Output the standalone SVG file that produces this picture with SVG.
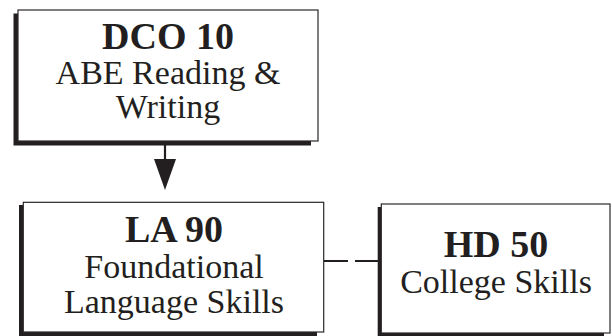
<svg xmlns="http://www.w3.org/2000/svg" width="612" height="336" viewBox="0 0 612 336">
<defs>
<style>
.box{fill:#ffffff;stroke:#2a2728;stroke-width:1.2}
.shadow{fill:#231f20}
.title{font-family:"Liberation Serif","Times New Roman",serif;font-weight:bold;font-size:38px;fill:#231f20;text-anchor:middle}
.body{font-family:"Liberation Serif","Times New Roman",serif;font-size:34px;fill:#231f20;text-anchor:middle}
.conn{stroke:#231f20;stroke-width:2.2;fill:none}
</style>
<marker id="arrow" viewBox="0 0 31 22" markerWidth="31" markerHeight="22" refX="21" refY="11" orient="auto" markerUnits="userSpaceOnUse">
<path d="M0,0 L31,11 L0,22 z" fill="#231f20"/>
</marker>
</defs>
<rect width="612" height="336" fill="#ffffff"/>
<g id="connectors">
<line class="conn" x1="165" y1="141" x2="165" y2="180" marker-end="url(#arrow)"/>
<line class="conn" x1="324" y1="261" x2="378" y2="261" stroke-dasharray="24 7" stroke-width="2.5"/>
</g>
<g id="node-dco10">
<path class="shadow" d="M13.5,13.5 H18 V141 H311 V145.5 H13.5 z"/>
<rect class="box" x="18" y="10" width="300" height="131"/>
<text class="title" x="168" y="49">DCO 10</text>
<text class="body" x="168" y="83.5">ABE Reading &amp;</text>
<text class="body" x="168" y="118">Writing</text>
</g>
<g id="node-la90">
<path class="shadow" d="M19,205 H23.3 V332 H317 V336 H19 z"/>
<rect class="box" x="23.3" y="202.3" width="300.4" height="129.7"/>
<text class="title" x="174" y="241.5">LA 90</text>
<text class="body" x="174" y="278">Foundational</text>
<text class="body" x="174" y="313">Language Skills</text>
</g>
<g id="node-hd50">
<path class="shadow" d="M377.7,207 H381.3 V333 H604 V336 H377.7 z"/>
<rect class="box" x="381.3" y="204" width="228.7" height="129"/>
<text class="title" x="496" y="256.5">HD 50</text>
<text class="body" x="496" y="293">College Skills</text>
</g>
</svg>
